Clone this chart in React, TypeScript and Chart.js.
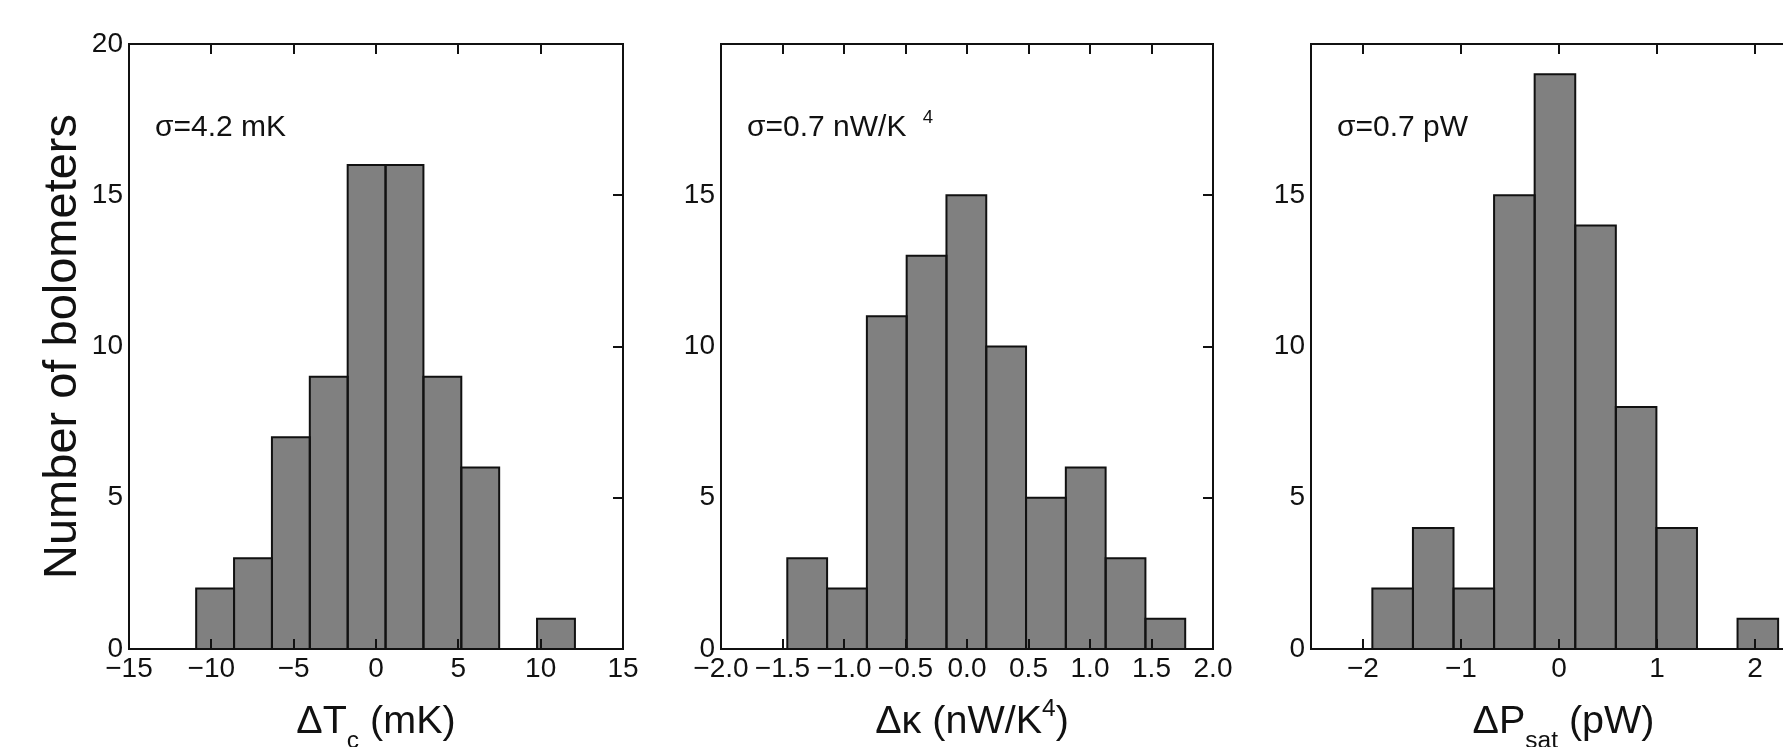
import React, { useEffect, useRef } from "react";
import { Chart, registerables } from "chart.js";

Chart.register(...registerables);

// ---- Data ----
const edgesTc = [-10.92, -8.62, -6.32, -4.02, -1.72, 0.58, 2.88, 5.18, 7.48, 9.78, 12.08];
const countsTc = [2, 3, 7, 9, 16, 16, 9, 6, 0, 1];

const edgesKappa = [-1.461, -1.1375, -0.814, -0.4905, -0.167, 0.1565, 0.48, 0.8035, 1.127, 1.4505, 1.774];
const countsKappa = [3, 2, 11, 13, 15, 10, 5, 6, 3, 1];

const edgesPsat = [-1.904, -1.49, -1.076, -0.662, -0.248, 0.166, 0.58, 0.994, 1.408, 1.822, 2.236];
const countsPsat = [2, 4, 2, 15, 19, 14, 8, 4, 0, 1];

const xTicksTc = [-15, -10, -5, 0, 5, 10, 15];
const xLabelsTc = ["\u221215", "\u221210", "\u22125", "0", "5", "10", "15"];
const xTicksKappa = [-2, -1.5, -1, -0.5, 0, 0.5, 1, 1.5, 2];
const xLabelsKappa = ["\u22122.0", "\u22121.5", "\u22121.0", "\u22120.5", "0.0", "0.5", "1.0", "1.5", "2.0"];
const xTicksPsat = [-2, -1, 0, 1, 2];
const xLabelsPsat = ["\u22122", "\u22121", "0", "1", "2"];

const yTicksFirst = [0, 5, 10, 15, 20];
const yTicksOther = [0, 5, 10, 15];

const yTitle = "Number of bolometers";

type Seg = { t: string; sub?: boolean; sup?: boolean; gap?: number };

const FONT = '"Liberation Sans", Arial, Helvetica, sans-serif';
const INK = "#111111";
const H = 747;
const PLOT_TOP = 44;
const PLOT_BOTTOM = 649;

type Panel = {
  edges: number[];
  counts: number[];
  xMin: number;
  xMax: number;
  xTicks: number[];
  xLabels: string[];
  yTicks: number[];
  canvasLeft: number;
  canvasWidth: number;
  plotLeft: number;
  plotRight: number;
  showYTitle: boolean;
  xTitle: Seg[];
  titleShift: number;
  note: Seg[];
};

const panels: Panel[] = [
  {
    edges: edgesTc, counts: countsTc, xMin: -15, xMax: 15,
    xTicks: xTicksTc, xLabels: xLabelsTc, yTicks: yTicksFirst,
    canvasLeft: 0, canvasWidth: 690, plotLeft: 129, plotRight: 623,
    showYTitle: true,
    xTitle: [{ t: "\u0394T" }, { t: "c", sub: true }, { t: " (mK)" }],
    titleShift: 0,
    note: [{ t: "\u03c3=4.2 mK" }],
  },
  {
    edges: edgesKappa, counts: countsKappa, xMin: -2, xMax: 2,
    xTicks: xTicksKappa, xLabels: xLabelsKappa, yTicks: yTicksOther,
    canvasLeft: 640, canvasWidth: 640, plotLeft: 721, plotRight: 1213,
    showYTitle: false,
    xTitle: [{ t: "\u0394\u03ba (nW/K" }, { t: "4", sup: true }, { t: ")" }],
    titleShift: 5,
    note: [{ t: "\u03c3=0.7 nW/K " }, { t: "4", sup: true, gap: 8 }],
  },
  {
    edges: edgesPsat, counts: countsPsat, xMin: -2.53, xMax: 2.5,
    xTicks: xTicksPsat, xLabels: xLabelsPsat, yTicks: yTicksOther,
    canvasLeft: 1230, canvasWidth: 640, plotLeft: 1311, plotRight: 1804,
    showYTitle: false,
    xTitle: [{ t: "\u0394P" }, { t: "sat", sub: true }, { t: " (pW)" }],
    titleShift: 6,
    note: [{ t: "\u03c3=0.7 pW" }],
  },
];

function drawRich(ctx: CanvasRenderingContext2D, segs: Seg[], x: number, y: number, size: number, center: boolean) {
  const small = size * 0.62;
  let total = 0;
  const widths = segs.map((s) => {
    ctx.font = `${s.sub || s.sup ? small : size}px ${FONT}`;
    const w = ctx.measureText(s.t).width + (s.gap || 0);
    total += w;
    return w;
  });
  let cx = center ? x - total / 2 : x;
  ctx.textAlign = "left";
  ctx.textBaseline = "alphabetic";
  segs.forEach((s, i) => {
    ctx.font = `${s.sub || s.sup ? small : size}px ${FONT}`;
    const dy = s.sub ? size * 0.38 : s.sup ? -size * 0.42 : 0;
    ctx.fillText(s.t, cx + (s.gap || 0), y + dy);
    cx += widths[i];
  });
}

function makeFramePlugin(p: Panel) {
  return {
    id: "frameTicks",
    afterDatasetsDraw(chart: any) {
      const { ctx, chartArea, scales } = chart;
      const { left, right, top, bottom } = chartArea;
      const xs = scales.x;
      const ys = scales.y;
      ctx.save();
      ctx.beginPath();
      ctx.rect(left - 2, top - 2, right - left + 4, bottom - top + 4);
      ctx.clip();
      // outline every bar the library laid out
      ctx.strokeStyle = INK;
      ctx.lineWidth = 2;
      const meta = chart.getDatasetMeta(0);
      meta.data.forEach((bar: any) => {
        const props = bar.getProps(["x", "y", "base", "width"], true);
        if (Math.abs(props.base - props.y) < 0.5) return;
        ctx.strokeRect(props.x - props.width / 2, props.y, props.width, props.base - props.y);
      });
      ctx.strokeRect(left, top, right - left, bottom - top);
      const tl = 10;
      ctx.beginPath();
      xs.ticks.forEach((t: any) => {
        const px = Math.round(xs.getPixelForValue(t.value));
        if (px <= left + 1 || px >= right - 1) return;
        ctx.moveTo(px, bottom);
        ctx.lineTo(px, bottom - tl);
        ctx.moveTo(px, top);
        ctx.lineTo(px, top + tl);
      });
      ys.ticks.forEach((t: any) => {
        const py = Math.round(ys.getPixelForValue(t.value));
        if (py <= top + 1 || py >= bottom - 1) return;
        ctx.moveTo(right, py);
        ctx.lineTo(right - tl, py);
      });
      ctx.stroke();
      ctx.restore();
    },
    afterDraw(chart: any) {
      const { ctx, chartArea } = chart;
      const { left, right } = chartArea;
      ctx.save();
      ctx.fillStyle = INK;
      drawRich(ctx, p.xTitle, (left + right) / 2 + p.titleShift, 733, 39.5, true);
      drawRich(ctx, p.note, left + 26, 136, 30, false);
      ctx.restore();
    },
  };
}

function PanelChart({ p }: { p: Panel }) {
  const ref = useRef<HTMLCanvasElement | null>(null);
  useEffect(() => {
    if (!ref.current) return;
    const centers = p.counts.map((_, i) => (p.edges[i] + p.edges[i + 1]) / 2);
    const padRight = p.canvasWidth - (p.plotRight - p.canvasLeft);
    const chart = new Chart(ref.current, {
      type: "bar",
      data: {
        datasets: [
          {
            data: centers.map((c, i) => ({ x: c, y: p.counts[i] })),
            backgroundColor: "#808080",
            borderColor: INK,
            borderWidth: 0,
            barPercentage: 1,
            categoryPercentage: 1,
          } as any,
        ],
      },
      options: {
        responsive: false,
        animation: false,
        devicePixelRatio: 1,
        layout: { padding: { left: 0, top: PLOT_TOP, right: padRight, bottom: 0 } },
        plugins: { legend: { display: false }, tooltip: { enabled: false } },
        scales: {
          x: {
            type: "linear",
            min: p.xMin,
            max: p.xMax,
            offset: false,
            grid: { display: false, drawTicks: false },
            border: { display: false },
            ticks: {
              autoSkip: false,
              maxRotation: 0,
              minRotation: 0,
              padding: 3,
              color: INK,
              font: { size: 28, family: FONT },
              callback: (v: any) => {
                const k = p.xTicks.findIndex((t) => Math.abs(t - Number(v)) < 1e-9);
                return k >= 0 ? p.xLabels[k] : "";
              },
            },
            afterBuildTicks: (s: any) => {
              s.ticks = p.xTicks.map((v) => ({ value: v }));
            },
            afterFit: (s: any) => {
              s.height = H - PLOT_BOTTOM;
            },
          },
          y: {
            type: "linear",
            min: 0,
            max: 20,
            grid: { display: false, drawTicks: false },
            border: { display: false },
            ticks: {
              padding: 6,
              color: INK,
              font: { size: 28, family: FONT },
              callback: (v: any) => String(v),
            },
            afterBuildTicks: (s: any) => {
              s.ticks = p.yTicks.map((v) => ({ value: v }));
            },
            afterFit: (s: any) => {
              s.width = p.plotLeft - p.canvasLeft;
            },
            title: {
              display: p.showYTitle,
              text: yTitle,
              color: INK,
              font: { size: 47, family: FONT },
              padding: { top: 35, bottom: 0 },
            },
          },
        },
      } as any,
      plugins: [makeFramePlugin(p)],
    });
    return () => chart.destroy();
  }, [p]);
  return (
    <canvas
      ref={ref}
      width={p.canvasWidth}
      height={H}
      style={{ position: "absolute", left: p.canvasLeft, top: 0, width: p.canvasWidth, height: H }}
    />
  );
}

export default function App() {
  useEffect(() => {
    document.body.style.margin = "0";
    document.body.style.overflow = "hidden";
    document.body.style.background = "#ffffff";
  }, []);
  return (
    <div style={{ position: "relative", width: 1783, height: H, overflow: "hidden", background: "#ffffff" }}>
      {panels.map((p, i) => (
        <PanelChart key={i} p={p} />
      ))}
    </div>
  );
}
